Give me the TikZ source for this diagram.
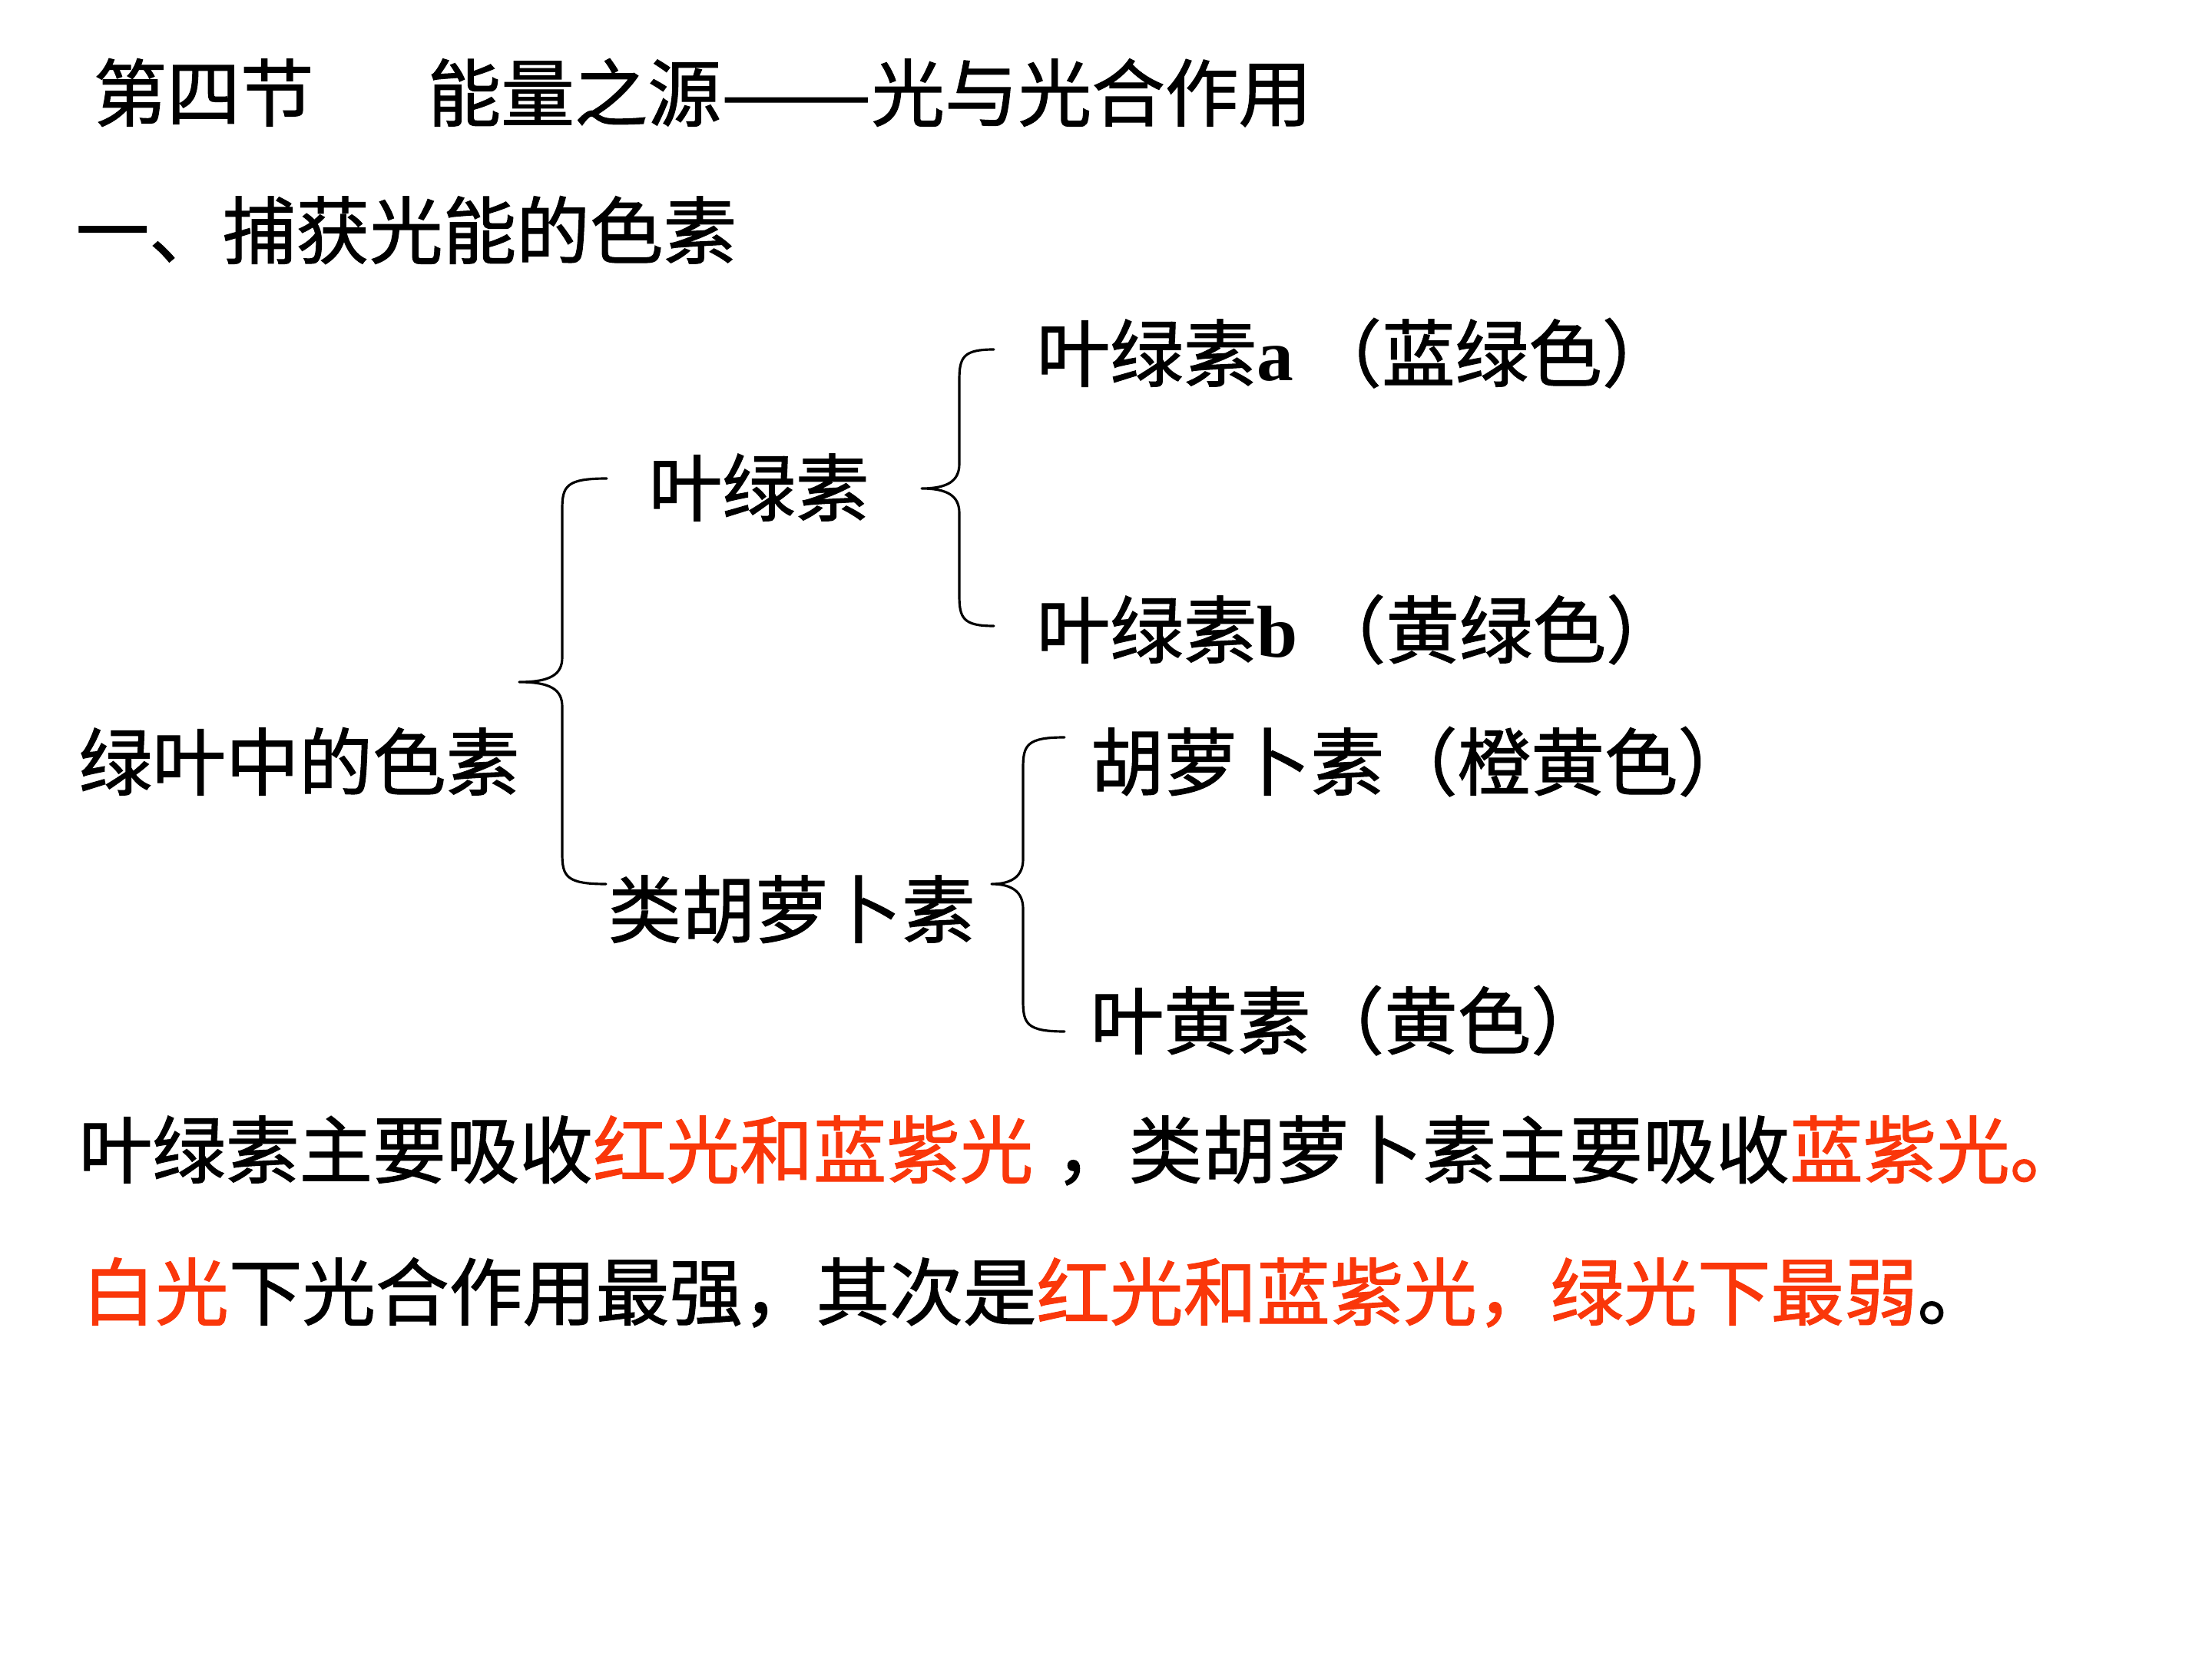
\documentclass[tikz,border=0pt]{standalone}
\usepackage{fontspec}
\setmainfont{Liberation Serif}
\newfontfamily\cjk{Noto Sans CJK SC}[FakeBold=1.2]
\usetikzlibrary{calc}
\definecolor{hl}{RGB}{250,55,10}
\tikzset{
  txt/.style={anchor=base west, inner sep=0pt, font=\cjk\fontsize{27.2pt}{33pt}\selectfont},
  bracestyle/.style={line width=0.9pt, line cap=round, line join=round}
}
\newcommand\curlybrace[4]{%
  \draw[bracestyle] let \p1=(#1), \p2=(#2), \p3=(#3) in
    (\p2) .. controls (\x1+#4+0.05cm,\y2) and (\x1+#4,\y2-0.1cm) .. (\x1+#4,\y2-0.4cm)
    -- (\x1+#4,\y1+0.32cm) .. controls (\x1+#4,\y1+0.1cm) and (\x1+#4-0.15cm,\y1) .. (\p1)
    .. controls (\x1+#4-0.15cm,\y1) and (\x1+#4,\y1-0.1cm) .. (\x1+#4,\y1-0.32cm)
    -- (\x1+#4,\y3+0.4cm) .. controls (\x1+#4,\y3+0.1cm) and (\x1+#4+0.05cm,\y3) .. (\p3);}
\begin{document}
\begin{tikzpicture}
\fill[white] (0,0) rectangle (28.8,-21.6);
\useasboundingbox (0,0) rectangle (28.8,-21.6);

\node[txt] (title) at (1.21,-1.57) {第四节\hspace{1.55em}能量之源\scalebox{1.22}[1]{——}光与光合作用};
\node[txt] (sec) at (0.98,-3.36) {一、捕获光能的色素};

\node[txt] (green) at (1.02,-10.28) {绿叶中的色素};
\node[txt] (chl) at (8.44,-6.71) {叶绿素};
\node[txt] (car) at (7.91,-12.20) {类胡萝卜素};
\node[txt] (chla) at (13.49,-4.96) {叶绿素{\rmfamily\bfseries a}\hspace{0.2em}（蓝绿色）};
\node[txt] (chlb) at (13.49,-8.56) {叶绿素{\rmfamily\bfseries b}\hspace{0.2em}（黄绿色）};
\node[txt] (carot) at (14.19,-10.28) {胡萝卜素（橙黄色）};
\node[txt] (xan) at (14.19,-13.65) {叶黄素（黄色）};

\coordinate (b1tip) at (6.76,-8.88);
\coordinate (b1top) at (7.90,-6.23);
\coordinate (b1bot) at (7.89,-11.51);
\coordinate (b2tip) at (12.00,-6.36);
\coordinate (b2top) at (12.94,-4.55);
\coordinate (b2bot) at (12.94,-8.15);
\coordinate (b3tip) at (12.91,-11.51);
\coordinate (b3top) at (13.86,-9.60);
\coordinate (b3bot) at (13.86,-13.43);

\curlybrace{b1tip}{b1top}{b1bot}{0.56cm}
\curlybrace{b2tip}{b2top}{b2bot}{0.49cm}
\curlybrace{b3tip}{b3top}{b3bot}{0.41cm}

\node[txt] (line1) at (1.02,-15.33) {叶绿素主要吸收\textcolor{hl}{红光和蓝紫光}\hspace{0.3em}，类胡萝卜素主要吸收\textcolor{hl}{蓝紫光。}};
\node[txt] (line2) at (1.06,-17.18) {\textcolor{hl}{白光}下光合作用最强，其次是\textcolor{hl}{红光和蓝紫光，绿光下最弱}。};
\end{tikzpicture}
\end{document}
